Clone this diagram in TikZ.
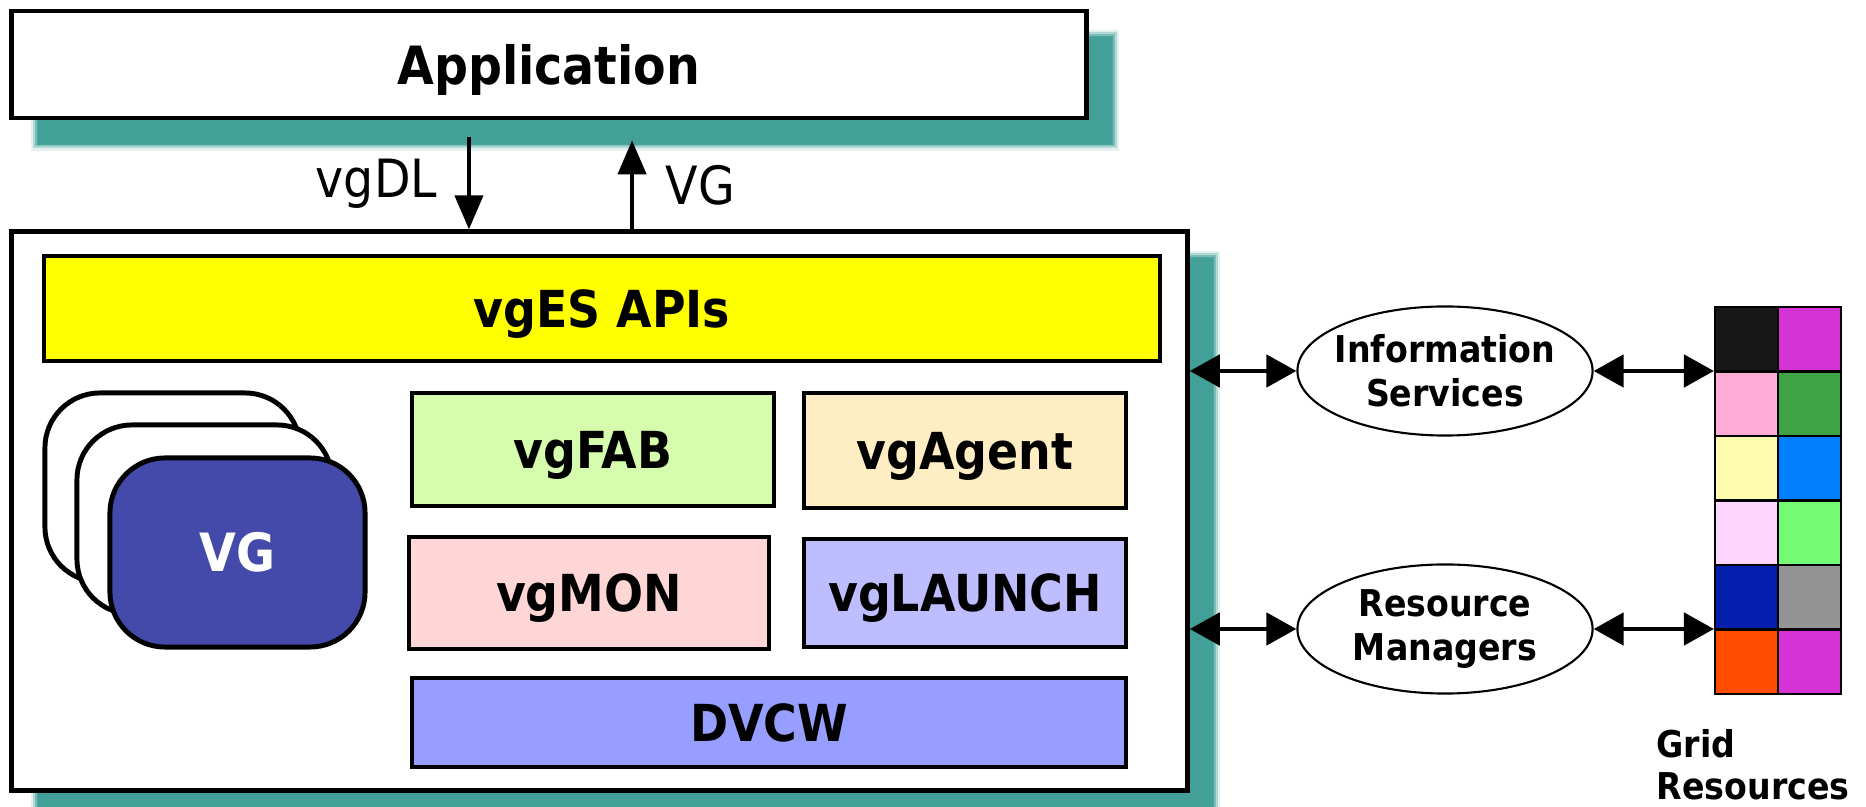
\documentclass[tikz,border=0pt]{standalone}
\usepackage{fontspec}
\setmainfont{DejaVu Sans Condensed}
\usetikzlibrary{arrows.meta,shapes.geometric}
\definecolor{shadowteal}{RGB}{66,160,152}
\definecolor{apiyellow}{RGB}{255,255,0}
\definecolor{fabgreen}{RGB}{214,252,173}
\definecolor{agentcream}{RGB}{255,238,196}
\definecolor{monpink}{RGB}{255,214,214}
\definecolor{launchlilac}{RGB}{189,189,255}
\definecolor{dvcwblue}{RGB}{150,158,255}
\definecolor{vgblue}{RGB}{68,74,170}
\tikzset{
	layer/.style={draw, line width=1.1pt, font=\fontsize{14.5}{17}\selectfont\bfseries, inner sep=0pt, text depth=0pt},
	vgcard/.style={draw, line width=1.4pt, rounded corners=0.55cm, minimum width=2.55cm, minimum height=1.89cm, inner sep=0pt},
	service/.style={ellipse, draw, line width=0.6pt, minimum width=2.95cm, minimum height=1.29cm, align=center, inner xsep=-0.06cm, inner ysep=0pt, font=\fontsize{10.5}{12.5}\selectfont\bfseries},
	cell/.style={draw, line width=0.6pt, minimum width=0.63cm, minimum height=0.645cm, inner sep=0pt},
	arr/.style={line width=1.2pt, -{Triangle[width=0.28cm,length=0.34cm]}},
	twoway/.style={line width=1.4pt, {Triangle[width=0.32cm,length=0.3cm]}-{Triangle[width=0.32cm,length=0.3cm]}}
}

\begin{document}
\begin{tikzpicture}[x=0.01cm, y=-0.01cm]
			%%%%% START %%%%%
			\useasboundingbox (0, 0) rectangle (1866, 807);
			
			% shadows
			\foreach \w/\o in {0.14/0.15, 0.09/0.3, 0.05/0.5, 0.02/0.8}{
				\draw[shadowteal, opacity=\o, line width=\w cm] (38, 37) rectangle (1112, 144);
				\draw[shadowteal, opacity=\o, line width=\w cm] (38, 258) rectangle (1213, 816);
			}
			\fill[shadowteal] (38, 37) rectangle (1112, 144);
			\fill[shadowteal] (38, 258) rectangle (1213, 816);
			
			\node[draw, fill=white, line width=1.3pt, minimum width=10.74cm, minimum height=1.07cm, text depth=0pt, font=\fontsize{15}{18}\selectfont\bfseries] (app) at (549, 64.5) {Application};
			\node[draw, fill=white, line width=1.4pt, minimum width=11.75cm, minimum height=5.58cm] (core) at (599.5, 511) {};
			
			\node[layer, fill=apiyellow, minimum width=11.16cm, minimum height=1.05cm] (api) at (602, 308.5) {vgES APIs};
			\node[layer, fill=fabgreen, minimum width=3.62cm, minimum height=1.13cm] (fab) at (593, 449.5) {vgFAB};
			\node[layer, fill=agentcream, minimum width=3.22cm, minimum height=1.15cm] (agent) at (965, 450.5) {vgAgent};
			\node[layer, fill=monpink, minimum width=3.6cm, minimum height=1.12cm] (mon) at (589, 593) {vgMON};
			\node[layer, fill=launchlilac, minimum width=3.22cm, minimum height=1.08cm] (launch) at (965, 593) {vgLAUNCH};
			\node[layer, fill=dvcwblue, minimum width=7.14cm, minimum height=0.89cm] (dvcw) at (769, 722.5) {DVCW};
			
			% stack of virtual grids
			\node[vgcard, fill=white] (vgback) at (172.5, 487.5) {};
			\node[vgcard, fill=white] (vgmid) at (204.5, 519.5) {};
			\node[vgcard, fill=vgblue, text=white, font=\fontsize{15}{18}\selectfont\bfseries] (vgfront) at (237.5, 552.5) {VG};
			
			\draw[arr] ([xshift=-0.8cm, yshift=-0.17cm]app.south) -- ([xshift=-0.8cm]app.south |- core.north) node[midway, left=0.18cm, font=\fontsize{15}{18}\selectfont] {vgDL};
			\draw[arr] ([xshift=0.83cm]app.south |- core.north) -- ([xshift=0.83cm, yshift=-0.2cm]app.south) node[midway, right=0.2cm, font=\fontsize{15}{18}\selectfont] {VG};
			
			\node[service] (info) at (1445, 371) {Information\\Services};
			\node[service] (rm) at (1445, 629) {Resource\\Managers};
			
			% grid resources
			\foreach \r/\ca/\cb in {1/{black!91}/{rgb,255:red,214;green,51;blue,214},
				2/{rgb,255:red,255;green,173;blue,214}/{rgb,255:red,61;green,163;blue,69},
				3/{rgb,255:red,255;green,252;blue,173}/{rgb,255:red,0;green,128;blue,255},
				4/{rgb,255:red,253;green,214;blue,255}/{rgb,255:red,117;green,252;blue,117},
				5/{rgb,255:red,4;green,30;blue,173}/{black!42},
				6/{rgb,255:red,255;green,77;blue,0}/{rgb,255:red,214;green,51;blue,214}}{
				\node[cell, fill=\ca] (g\r a) at (1746.5, 274.75 + 64.5*\r) {};
				\node[cell, fill=\cb] (g\r b) at (1809.5, 274.75 + 64.5*\r) {};
			}
			\node[anchor=north west, align=left, inner sep=0pt, font=\fontsize{10.5}{12}\selectfont\bfseries] (gridlabel) at (1656, 729) {Grid\\Resources};
			
			\draw[twoway] (info.west -| core.east) -- (info.west);
			\draw[twoway] (rm.west -| core.east) -- (rm.west);
			\draw[twoway] (info.east) -- (info.east -| g1a.west);
			\draw[twoway] (rm.east) -- (rm.east -| g1a.west);
			
			%%%%% END %%%%%
		\end{tikzpicture}
\end{document}
